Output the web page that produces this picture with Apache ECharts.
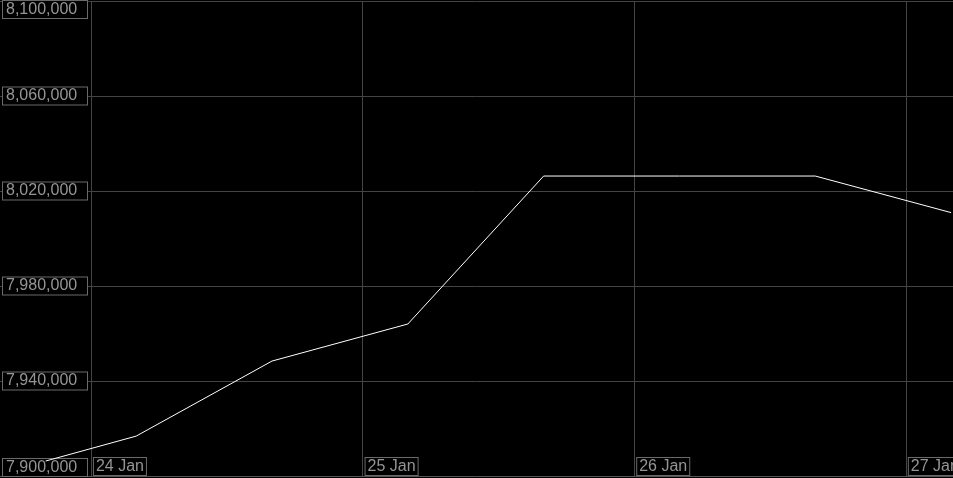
<!DOCTYPE html>
<html><head><meta charset="utf-8">
<script src="https://cdn.jsdelivr.net/npm/echarts@6/dist/echarts.min.js"></script>
<style>html,body{margin:0;padding:0;background:#000;}#c{width:953px;height:478px;}</style>
</head><body><div id="c"></div>
<script>
const times = ['2024-01-23T20:00:00Z','2024-01-24T04:00:00Z','2024-01-24T16:00:00Z','2024-01-25T04:00:00Z','2024-01-25T16:00:00Z','2024-01-26T04:00:00Z','2024-01-26T16:00:00Z','2024-01-27T04:00:00Z'];
const values = [7906300, 7916800, 7948400, 7964000, 8026300, 8026300, 8026300, 8010900];
const yTicks = [7900000, 7940000, 7980000, 8020000, 8060000, 8100000];
const monthNames = ['Jan','Feb','Mar','Apr','May','Jun','Jul','Aug','Sep','Oct','Nov','Dec'];
const xMin = Date.parse('2024-01-23T15:58:00Z');
const xMax = Date.parse('2024-01-27T04:10:00Z');

const labelColor = '#959595';
const boxColor = '#6a6a6a';
const chart = echarts.init(document.getElementById('c'));
chart.setOption({
  useUTC: true,
  backgroundColor: '#000',
  animation: false,
  grid: {left: 0, right: 0, top: 1, bottom: 2, containLabel: false, outerBoundsMode: 'none'},
  xAxis: {
    type: 'time', min: xMin, max: xMax,
    minInterval: 86400000, maxInterval: 86400000,
    axisLine: {show: true, lineStyle: {color: '#555', width: 1}},
    axisTick: {show: false},
    splitLine: {show: true, showMinLine: false, showMaxLine: false, lineStyle: {color: '#444', width: 1}},
    axisLabel: {
      inside: true, margin: 2, align: 'left', verticalAlign: 'bottom',
      showMinLabel: false, showMaxLabel: false, hideOverlap: false,
      padding: [0, 0, 0, 3],
      rich: {
        b: {
          color: labelColor, fontFamily: 'Liberation Sans', fontSize: 16, lineHeight: 15,
          backgroundColor: '#000', borderColor: boxColor, borderWidth: 1,
          padding: [1, 2, 0, 2]
        }
      },
      formatter: function (v) { const d = new Date(v); return '{b|' + d.getUTCDate() + ' ' + monthNames[d.getUTCMonth()] + '}'; }
    }
  },
  yAxis: {
    type: 'value', min: yTicks[0], max: yTicks[yTicks.length - 1], interval: 40000,
    axisLine: {show: false}, axisTick: {show: false},
    splitLine: {show: true, lineStyle: {color: '#444', width: 1}},
    axisLabel: {
      inside: true, margin: 3,
      verticalAlignMaxLabel: 'top', verticalAlignMinLabel: 'bottom',
      color: labelColor, fontFamily: 'Liberation Sans', fontSize: 16, lineHeight: 16,
      backgroundColor: '#000', borderColor: boxColor, borderWidth: 1,
      padding: [1, 0, 0, 3], width: 81,
      formatter: function (v) { return v.toLocaleString('en-US'); }
    }
  },
  series: [{
    type: 'line', data: times.map((t, i) => [Date.parse(t), values[i]]),
    showSymbol: false, symbol: 'none',
    lineStyle: {color: '#fff', width: 1}
  }]
});
</script></body></html>
